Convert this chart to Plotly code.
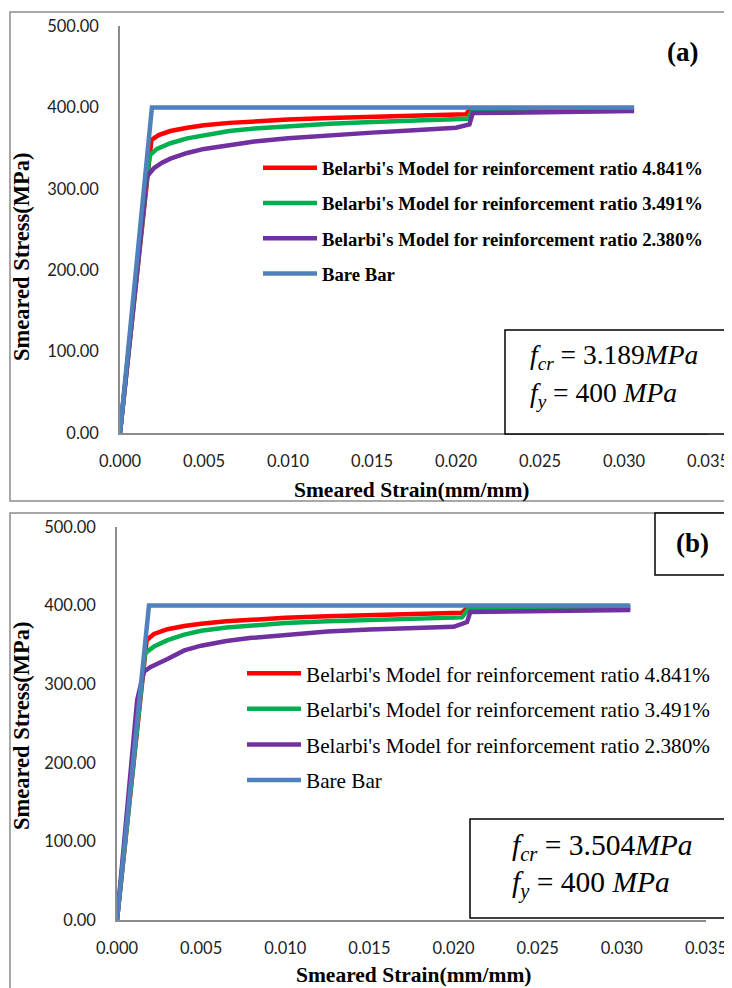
import plotly.graph_objects as go

# The page body adds an 8 px offset, so the figure is 8 px smaller and positions shift by 8.
OFF = 8
W, H = 732 - OFF, 988 - OFF

# ---------------- data: panel (a) ----------------
a_bare_strain = [0, 0.0019, 0.0306]
a_bare_stress = [0, 400, 400]
a_r48_strain = [0, 0.00187, 0.0023, 0.003, 0.004, 0.005, 0.0065, 0.008, 0.010, 0.0125, 0.015, 0.0175, 0.0206, 0.0208, 0.0306]
a_r48_stress = [0, 360, 366, 371, 375, 378, 381, 383, 385, 387, 388.5, 390, 391.5, 397, 398.5]
a_r35_strain = [0, 0.00175, 0.0022, 0.003, 0.004, 0.005, 0.0065, 0.008, 0.010, 0.0125, 0.015, 0.0175, 0.0207, 0.0210, 0.0306]
a_r35_stress = [0, 341, 349, 356, 362, 366, 371, 374, 377, 380, 382, 384, 386, 396.5, 397.5]
a_r24_strain = [0, 0.0016, 0.002, 0.0025, 0.003, 0.004, 0.005, 0.0065, 0.008, 0.010, 0.0125, 0.015, 0.0175, 0.0200, 0.0208, 0.0210, 0.0306]
a_r24_stress = [0, 315, 325, 332, 337, 344, 349, 354, 358, 362, 366, 369, 372, 375, 379, 393, 395.5]

# ---------------- data: panel (b) ----------------
b_bare_strain = [0, 0.0019, 0.0305]
b_bare_stress = [0, 400, 400]
b_r48_strain = [0, 0.00176, 0.0022, 0.003, 0.004, 0.005, 0.0065, 0.008, 0.010, 0.0125, 0.015, 0.0175, 0.0205, 0.0208, 0.0305]
b_r48_stress = [0, 356, 364, 370, 374, 377, 380, 382, 384.5, 386.5, 388, 389, 391, 397, 398]
b_r35_strain = [0, 0.00166, 0.0022, 0.003, 0.004, 0.005, 0.0065, 0.008, 0.010, 0.0125, 0.015, 0.0175, 0.0205, 0.0209, 0.0305]
b_r35_stress = [0, 339, 348, 356, 363, 368, 372, 375, 378, 380, 382, 383.5, 385, 396, 397]
b_r24_strain = [0, 0.0012, 0.0016, 0.002, 0.003, 0.004, 0.005, 0.0065, 0.008, 0.010, 0.0125, 0.015, 0.0175, 0.0200, 0.0208, 0.0210, 0.0305]
b_r24_stress = [0, 280, 316, 322, 332, 343, 349, 355, 359, 363, 367, 369.5, 371, 373, 379, 392, 394.5]

series_names = ["Belarbi's Model for reinforcement ratio 4.841%",
                "Belarbi's Model for reinforcement ratio 3.491%",
                "Belarbi's Model for reinforcement ratio 2.380%",
                "Bare Bar"]
series_colors = ["#FF0000", "#00B050", "#7030A0", "#4F81BD"]

x_ticks = [0, 0.005, 0.010, 0.015, 0.020, 0.025, 0.030, 0.035]
y_ticks = [0, 100, 200, 300, 400, 500]

def px(x):
    return (x - OFF) / W

def py(y):
    return 1 - (y - OFF) / H

fig = go.Figure()

panel_a = [(a_r48_strain, a_r48_stress), (a_r35_strain, a_r35_stress),
           (a_r24_strain, a_r24_stress), (a_bare_strain, a_bare_stress)]
panel_b = [(b_r48_strain, b_r48_stress), (b_r35_strain, b_r35_stress),
           (b_r24_strain, b_r24_stress), (b_bare_strain, b_bare_stress)]

for i, (xs, ys) in enumerate(panel_a):
    fig.add_trace(go.Scatter(x=xs, y=ys, mode="lines", name=series_names[i],
                             line=dict(color=series_colors[i], width=4.5),
                             xaxis="x", yaxis="y", legend="legend",
                             legendgroup="a%d" % i))
for i, (xs, ys) in enumerate(panel_b):
    fig.add_trace(go.Scatter(x=xs, y=ys, mode="lines", name=series_names[i],
                             line=dict(color=series_colors[i], width=4.5),
                             xaxis="x2", yaxis="y2", legend="legend2",
                             legendgroup="b%d" % i))

axis_common = dict(showgrid=False, zeroline=False, showline=True, automargin=False,
                   linecolor="#8C8C8C", linewidth=1.5, ticks="",
                   tickfont=dict(family="Lato", size=16.5, color="#222"))

fig.update_layout(
    template="none",
    width=W, height=H, margin=dict(l=0, r=0, t=0, b=0, pad=0, autoexpand=False),
    paper_bgcolor="white", plot_bgcolor="white",
    xaxis=dict(domain=[px(120), px(708)], range=[0, 0.035], tickvals=x_ticks,
               tickformat=".3f", anchor="y", ticklabelstandoff=12, **axis_common),
    yaxis=dict(domain=[py(433), py(26)], range=[0, 500], tickvals=y_ticks,
               tickformat=".2f", anchor="x", ticklabelstandoff=16, **axis_common),
    xaxis2=dict(domain=[px(117), px(706)], range=[0, 0.035], tickvals=x_ticks,
                tickformat=".3f", anchor="y2", ticklabelstandoff=12, **axis_common),
    yaxis2=dict(domain=[py(920), py(527)], range=[0, 500], tickvals=y_ticks,
                tickformat=".2f", anchor="x2", ticklabelstandoff=16, **axis_common),
    legend=dict(x=px(258), y=py(149), xanchor="left", yanchor="top", itemwidth=54,
                bgcolor="rgba(0,0,0,0)", tracegroupgap=8, traceorder="grouped",
                font=dict(family="Liberation Serif", size=18.7, color="black", weight="bold")),
    legend2=dict(x=px(242), y=py(653), xanchor="left", yanchor="top", itemwidth=54,
                 bgcolor="rgba(0,0,0,0)", tracegroupgap=5, traceorder="grouped",
                 font=dict(family="Liberation Serif", size=21.2, color="black")),
    showlegend=True,
)

shapes = [
    # outer frames
    dict(type="rect", xref="paper", yref="paper", x0=px(10), x1=px(745), y0=py(501), y1=py(12),
         line=dict(color="#8C8C8C", width=1.5), fillcolor="rgba(0,0,0,0)", layer="below"),
    dict(type="rect", xref="paper", yref="paper", x0=px(10), x1=px(745), y0=py(1000), y1=py(513),
         line=dict(color="#8C8C8C", width=1.5), fillcolor="rgba(0,0,0,0)", layer="below"),
    # note boxes
    dict(type="rect", xref="paper", yref="paper", x0=px(505), x1=px(745), y0=py(434), y1=py(330),
         line=dict(color="black", width=1.5), fillcolor="white", layer="above"),
    dict(type="rect", xref="paper", yref="paper", x0=px(470), x1=px(745), y0=py(918), y1=py(819),
         line=dict(color="black", width=1.5), fillcolor="white", layer="above"),
    dict(type="rect", xref="paper", yref="paper", x0=px(655), x1=px(745), y0=py(575), y1=py(513),
         line=dict(color="black", width=1.5), fillcolor="white", layer="above"),
]
fig.update_layout(shapes=shapes)

serif = "Liberation Serif"
annots = [
    dict(text="<b>(a)</b>", x=px(682), y=py(52), font=dict(family=serif, size=27, color="black")),
    dict(text="<b>(b)</b>", x=px(692), y=py(543), font=dict(family=serif, size=27, color="black")),
    dict(text="<b>Smeared Strain(mm/mm)</b>", x=px(411), y=py(490), font=dict(family=serif, size=21.5, color="black")),
    dict(text="<b>Smeared Strain(mm/mm)</b>", x=px(413), y=py(975), font=dict(family=serif, size=21.5, color="black")),
    dict(text="<b>Smeared Stress(MPa)</b>", x=px(21), y=py(257), textangle=-90, font=dict(family=serif, size=22.5, color="black")),
    dict(text="<b>Smeared Stress(MPa)</b>", x=px(21), y=py(726), textangle=-90, font=dict(family=serif, size=22.5, color="black")),
    dict(text="<i>f<sub>cr</sub></i> = 3.189<i>MPa</i>", x=px(528), y=py(357), xanchor="left",
         font=dict(family=serif, size=27.5, color="black")),
    dict(text="<i>f<sub>y</sub></i> = 400 <i>MPa</i>", x=px(528), y=py(394), xanchor="left",
         font=dict(family=serif, size=27.5, color="black")),
    dict(text="<i>f<sub>cr</sub></i> = 3.504<i>MPa</i>", x=px(510), y=py(847), xanchor="left",
         font=dict(family=serif, size=29.5, color="black")),
    dict(text="<i>f<sub>y</sub></i> = 400 <i>MPa</i>", x=px(510), y=py(884), xanchor="left",
         font=dict(family=serif, size=29.5, color="black")),
]
for a in annots:
    a.setdefault("xanchor", "center")
    fig.add_annotation(xref="paper", yref="paper", showarrow=False, yanchor="middle", **a)

fig.write_html("out.html")
